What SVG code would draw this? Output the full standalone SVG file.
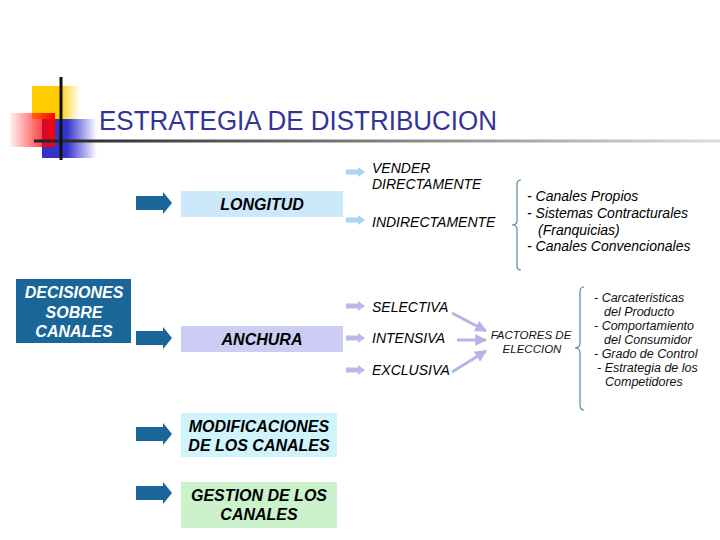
<svg xmlns="http://www.w3.org/2000/svg" width="720" height="540" viewBox="0 0 720 540">
<defs>
<linearGradient id="gY" x1="0" x2="1" y1="0" y2="0"><stop offset="0" stop-color="#ffcc00"/><stop offset="0.55" stop-color="#ffcc00"/><stop offset="1" stop-color="#ffcc00" stop-opacity="0"/></linearGradient>
<linearGradient id="gB" x1="0" x2="1" y1="0" y2="0"><stop offset="0" stop-color="#3333cc"/><stop offset="0.45" stop-color="#3333cc"/><stop offset="1" stop-color="#3333cc" stop-opacity="0"/></linearGradient>
<linearGradient id="gR" x1="0" x2="1" y1="0" y2="0"><stop offset="0" stop-color="#ff0000" stop-opacity="0.05"/><stop offset="1" stop-color="#ff0000"/></linearGradient>
<linearGradient id="gL" x1="0" x2="1" y1="0" y2="0"><stop offset="0" stop-color="#222222"/><stop offset="1" stop-color="#dddddd"/></linearGradient>
<marker id="ah" viewBox="0 0 10 10" refX="9" refY="5" markerWidth="4" markerHeight="4" orient="auto"><path d="M0,0 L10,5 L0,10 z" fill="#b4b4e8"/></marker>
</defs>
<style>
.t{font-family:"Liberation Sans",Arial,sans-serif}
.bi{font-family:"Liberation Sans",Arial,sans-serif;font-weight:bold;font-style:italic;font-size:16px;text-anchor:middle;fill:#000}
.w{fill:#ffffff}
.it{font-family:"Liberation Sans",Arial,sans-serif;font-style:italic;font-size:14px;fill:#000}
.sm{font-family:"Liberation Sans",Arial,sans-serif;font-style:italic;font-size:12.5px;fill:#111}
.fa{font-family:"Liberation Sans",Arial,sans-serif;font-style:italic;font-size:11.5px;fill:#111;text-anchor:middle}
.big{fill:#1a6699}
.la{fill:#a8d6f0}
.lv{fill:#b8b8ec}
.brace{fill:none;stroke:#4f8a9e;stroke-width:1.2}
.conn{stroke:#b4b4e8;stroke-width:3;fill:none}
</style>
<rect width="720" height="540" fill="#ffffff"/>
<g id="title">
<rect x="32" y="86" width="48" height="33" fill="url(#gY)"/>
<rect x="42" y="119" width="55" height="39" fill="url(#gB)"/>
<rect x="10" y="113" width="45" height="34" fill="url(#gR)"/>
<rect x="34" y="139.5" width="686" height="3" fill="url(#gL)"/>
<rect x="59.5" y="77" width="3" height="83" fill="#111111"/>
<text class="t" x="99" y="130" font-size="27" fill="#333399" textLength="398" lengthAdjust="spacingAndGlyphs">ESTRATEGIA DE DISTRIBUCION</text>
</g>
<g id="decisiones">
<rect x="16" y="279" width="115" height="64" fill="#1a6699"/>
<text class="bi w" x="74" y="298">DECISIONES</text>
<text class="bi w" x="74" y="318">SOBRE</text>
<text class="bi w" x="74" y="337">CANALES</text>
</g>
<g id="longitud">
<rect x="181" y="191" width="162" height="26" fill="#cce9fb"/>
<text class="bi" x="262" y="209.5">LONGITUD</text>
</g>
<g id="anchura">
<rect x="181" y="326" width="162" height="26" fill="#ccccf5"/>
<text class="bi" x="262" y="344.5">ANCHURA</text>
</g>
<g id="modificaciones">
<rect x="181" y="413" width="156" height="44" fill="#d0f4fc"/>
<text class="bi" x="259" y="432">MODIFICACIONES</text>
<text class="bi" x="259" y="451">DE LOS CANALES</text>
</g>
<g id="gestion">
<rect x="181" y="482" width="156" height="46" fill="#ccf2cc"/>
<text class="bi" x="259" y="501">GESTION DE LOS</text>
<text class="bi" x="259" y="520">CANALES</text>
</g>
<g id="vender"><text class="it" x="372" y="173">VENDER</text><text class="it" x="372" y="189">DIRECTAMENTE</text></g>
<g id="indirectamente"><text class="it" x="372" y="227">INDIRECTAMENTE</text></g>
<g id="lista-indirecta">
<text class="it" x="527" y="201">- Canales Propios</text>
<text class="it" x="527" y="218">- Sistemas Contracturales</text>
<text class="it" x="538" y="235">(Franquicias)</text>
<text class="it" x="527" y="251">- Canales Convencionales</text>
</g>
<g id="selectiva"><text class="it" x="372" y="312">SELECTIVA</text></g>
<g id="intensiva"><text class="it" x="372" y="343">INTENSIVA</text></g>
<g id="exclusiva"><text class="it" x="372" y="375">EXCLUSIVA</text></g>
<g id="factores">
<text class="fa" x="531" y="339">FACTORES DE</text>
<text class="fa" x="532" y="353">ELECCION</text>
</g>
<g id="lista-factores">
<text class="sm" x="594" y="302">- Carcateristicas</text>
<text class="sm" x="604" y="316">del Producto</text>
<text class="sm" x="594" y="330">- Comportamiento</text>
<text class="sm" x="604" y="344">del Consumidor</text>
<text class="sm" x="594" y="358">- Grado de Control</text>
<text class="sm" x="597" y="372">- Estrategia de los</text>
<text class="sm" x="605" y="386">Competidores</text>
</g>
<g id="connectors">
<path class="big" d="M136,196 H163 V192 L172,203 L163,214 V210 H136 Z"/>
<path class="big" d="M136,331 H163 V327 L172,338 L163,349 V345 H136 Z"/>
<path class="big" d="M136,427 H163 V423 L172,434 L163,445 V441 H136 Z"/>
<path class="big" d="M136,486 H163 V482 L172,493 L163,504 V500 H136 Z"/>
<path class="la" d="M346,169.5 H358 V167 L365,172 L358,177 V174.5 H346 Z"/>
<path class="la" d="M346,217.5 H358 V215 L365,220 L358,225 V222.5 H346 Z"/>
<path class="lv" d="M346,303.5 H358 V301 L365,306 L358,311 V308.5 H346 Z"/>
<path class="lv" d="M346,335.5 H358 V333 L365,338 L358,343 V340.5 H346 Z"/>
<path class="lv" d="M346,367.5 H358 V365 L365,370 L358,375 V372.5 H346 Z"/>
<line class="conn" x1="452" y1="313" x2="486" y2="331" marker-end="url(#ah)"/>
<line class="conn" x1="457" y1="340" x2="486" y2="340" marker-end="url(#ah)"/>
<line class="conn" x1="452" y1="372" x2="486" y2="351" marker-end="url(#ah)"/>
<path class="brace" d="M521,180 Q517,180 517,184 L517,221 Q517,225 512,225 Q517,225 517,229 L517,266 Q517,270 521,270"/>
<path class="brace" d="M584,287 Q580,287 580,292 L580,343 Q580,348 575,348 Q580,348 580,353 L580,405 Q580,410 584,410"/>
</g>
</svg>
